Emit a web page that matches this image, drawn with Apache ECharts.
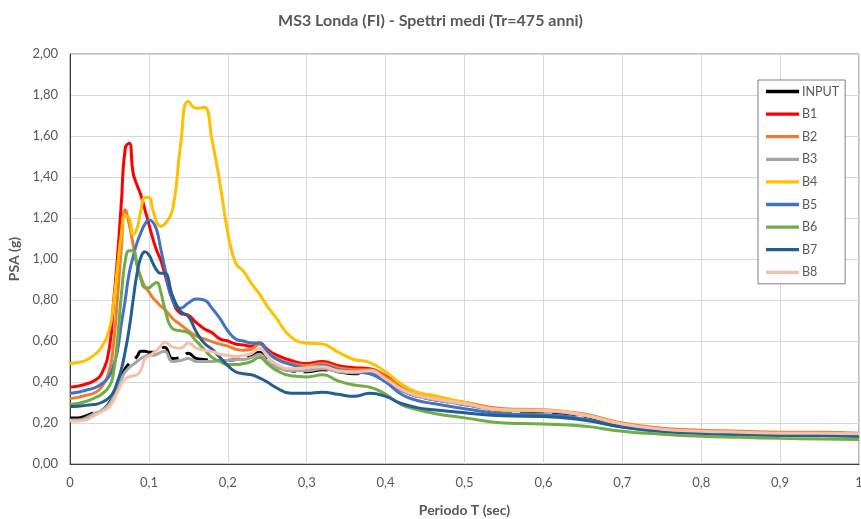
<!DOCTYPE html>
<html>
<head>
<meta charset="utf-8">
<script src="https://cdn.jsdelivr.net/npm/echarts@6/dist/echarts.min.js"></script>
<style>
  html, body { margin: 0; padding: 0; background: #fff; }
  #chart { width: 861px; height: 519px; }
</style>
</head>
<body>
<div id="chart"></div>
<script>
// period T (sec), shared by all spectra
const period = [0, 0.01, 0.02, 0.03, 0.04, 0.05, 0.055, 0.06, 0.065, 0.07, 0.075, 0.08, 0.085, 0.09, 0.095,
  0.10, 0.105, 0.11, 0.115, 0.12, 0.13, 0.14, 0.15, 0.16, 0.17, 0.18, 0.19, 0.20, 0.21, 0.22, 0.23, 0.24,
  0.25, 0.26, 0.28, 0.30, 0.32, 0.34, 0.36, 0.38, 0.40, 0.42, 0.44, 0.46, 0.50, 0.55, 0.60, 0.65, 0.70,
  0.75, 0.80, 0.85, 0.90, 0.95, 1.00];

const input = [0.225, 0.225, 0.235, 0.25, 0.26, 0.30, 0.335, 0.38, 0.43, 0.465, 0.49, 0.505, 0.525, 0.55, 0.55,
  0.545, 0.545, 0.55, 0.565, 0.57, 0.515, 0.52, 0.54, 0.515, 0.51, 0.505, 0.505, 0.505, 0.51, 0.515, 0.525, 0.545,
  0.51, 0.48, 0.455, 0.45, 0.46, 0.45, 0.44, 0.445, 0.41, 0.36, 0.33, 0.315, 0.29, 0.26, 0.255, 0.235, 0.19,
  0.165, 0.155, 0.15, 0.145, 0.145, 0.145];

const b1 = [0.375, 0.38, 0.39, 0.405, 0.44, 0.57, 0.78, 1.0, 1.27, 1.54, 1.565, 1.42, 1.36, 1.31, 1.24,
  1.17, 1.10, 1.04, 0.995, 0.93, 0.80, 0.735, 0.725, 0.69, 0.66, 0.64, 0.61, 0.60, 0.585, 0.58, 0.575, 0.59,
  0.56, 0.535, 0.505, 0.49, 0.50, 0.48, 0.47, 0.465, 0.43, 0.38, 0.34, 0.325, 0.30, 0.265, 0.26, 0.24, 0.195,
  0.17, 0.16, 0.155, 0.15, 0.15, 0.145];

const b2 = [0.32, 0.325, 0.335, 0.345, 0.375, 0.46, 0.58, 0.80, 1.05, 1.24, 1.17, 1.07, 0.97, 0.91, 0.865,
  0.84, 0.81, 0.79, 0.77, 0.755, 0.71, 0.68, 0.65, 0.625, 0.61, 0.597, 0.585, 0.575, 0.56, 0.555, 0.56, 0.585,
  0.55, 0.52, 0.49, 0.48, 0.49, 0.47, 0.46, 0.46, 0.425, 0.375, 0.34, 0.325, 0.30, 0.27, 0.265, 0.245, 0.20,
  0.175, 0.165, 0.16, 0.155, 0.155, 0.15];

const b3 = [0.215, 0.215, 0.225, 0.245, 0.26, 0.295, 0.33, 0.37, 0.415, 0.45, 0.47, 0.485, 0.50, 0.515, 0.525,
  0.53, 0.53, 0.535, 0.545, 0.55, 0.50, 0.505, 0.515, 0.50, 0.50, 0.50, 0.505, 0.505, 0.51, 0.51, 0.52, 0.535,
  0.50, 0.475, 0.455, 0.455, 0.465, 0.45, 0.445, 0.445, 0.41, 0.36, 0.33, 0.315, 0.29, 0.262, 0.258, 0.238, 0.192,
  0.168, 0.158, 0.152, 0.148, 0.147, 0.145];

const b4 = [0.49, 0.495, 0.505, 0.53, 0.57, 0.66, 0.78, 0.95, 1.12, 1.21, 1.20, 1.12, 1.15, 1.24, 1.30,
  1.30, 1.24, 1.18, 1.16, 1.17, 1.24, 1.55, 1.77, 1.735, 1.74, 1.58, 1.37, 1.13, 0.98, 0.94, 0.88, 0.83,
  0.77, 0.72, 0.62, 0.59, 0.585, 0.545, 0.51, 0.495, 0.45, 0.39, 0.35, 0.335, 0.30, 0.262, 0.26, 0.24, 0.195,
  0.165, 0.155, 0.145, 0.14, 0.14, 0.14];

const b5 = [0.345, 0.35, 0.36, 0.37, 0.39, 0.43, 0.48, 0.55, 0.68, 0.80, 0.93, 1.01, 1.08, 1.13, 1.17,
  1.19, 1.18, 1.14, 1.05, 0.96, 0.80, 0.76, 0.785, 0.805, 0.80, 0.76, 0.71, 0.65, 0.61, 0.60, 0.59, 0.59,
  0.55, 0.515, 0.485, 0.47, 0.48, 0.46, 0.45, 0.44, 0.40, 0.34, 0.31, 0.295, 0.27, 0.245, 0.24, 0.22, 0.18,
  0.16, 0.15, 0.145, 0.14, 0.14, 0.135];

const b6 = [0.29, 0.295, 0.305, 0.32, 0.34, 0.38, 0.44, 0.60, 0.82, 0.99, 1.04, 1.04, 0.97, 0.90, 0.86,
  0.86, 0.875, 0.885, 0.84, 0.76, 0.66, 0.65, 0.64, 0.60, 0.56, 0.52, 0.50, 0.485, 0.485, 0.49, 0.50, 0.52,
  0.49, 0.46, 0.43, 0.425, 0.435, 0.405, 0.385, 0.375, 0.34, 0.29, 0.265, 0.248, 0.225, 0.20, 0.195, 0.185, 0.16,
  0.145, 0.135, 0.13, 0.125, 0.122, 0.12];

const b7 = [0.28, 0.282, 0.286, 0.29, 0.30, 0.325, 0.35, 0.40, 0.46, 0.55, 0.66, 0.80, 0.93, 1.01, 1.035,
  1.02, 0.98, 0.945, 0.93, 0.93, 0.82, 0.745, 0.72, 0.645, 0.59, 0.56, 0.52, 0.48, 0.45, 0.44, 0.435, 0.42,
  0.40, 0.375, 0.345, 0.345, 0.35, 0.34, 0.33, 0.345, 0.33, 0.295, 0.275, 0.265, 0.25, 0.235, 0.232, 0.215, 0.18,
  0.16, 0.15, 0.145, 0.14, 0.138, 0.135];

const b8 = [0.21, 0.21, 0.215, 0.235, 0.255, 0.28, 0.31, 0.35, 0.39, 0.415, 0.425, 0.43, 0.435, 0.46, 0.515,
  0.525, 0.54, 0.555, 0.575, 0.595, 0.57, 0.565, 0.59, 0.565, 0.555, 0.548, 0.535, 0.53, 0.525, 0.53, 0.54, 0.565,
  0.525, 0.49, 0.465, 0.47, 0.475, 0.455, 0.45, 0.455, 0.415, 0.365, 0.335, 0.32, 0.295, 0.265, 0.262, 0.24, 0.195,
  0.17, 0.16, 0.155, 0.15, 0.15, 0.148];

const seriesNames = ['INPUT', 'B1', 'B2', 'B3', 'B4', 'B5', 'B6', 'B7', 'B8'];
const seriesValues = [input, b1, b2, b3, b4, b5, b6, b7, b8];
const seriesColors = ['#000000', '#FF0000', '#ED7D31', '#A5A5A5', '#FFC000', '#4472C4', '#70AD47', '#255E91', '#F4C0AC'];

const FONT = 'Lato, "Open Sans", sans-serif';
const TEXT = '#595959';

const comma = (v, d) => v.toFixed(d).replace('.', ',');

// INPUT is first, so every B-series is painted over it
const series = seriesNames.map((name, i) => ({
  name: name,
  type: 'line',
  data: period.map((t, k) => [t, seriesValues[i][k]]),
  symbol: 'none',
  smooth: 0.5,
  color: seriesColors[i],
  lineStyle: {
    width: 3,
    color: seriesColors[i],
    type: name === 'INPUT' ? [24, 8] : 'solid'
  }
}));

const chart = echarts.init(document.getElementById('chart'), null, { renderer: 'canvas' });
chart.setOption({
  animation: false,
  backgroundColor: '#fff',
  title: {
    text: 'MS3 Londa (FI) - Spettri medi (Tr=475 anni)',
    left: 'center',
    top: 8,
    textStyle: { fontFamily: FONT, fontSize: 16, fontWeight: 'bold', color: TEXT }
  },
  legend: {
    orient: 'vertical',
    left: 758,
    top: 80,
    width: 80,
    padding: [5, 6, 5, 8],
    itemWidth: 33,
    itemHeight: 14,
    itemGap: 9.6,
    borderColor: '#808080',
    borderWidth: 1,
    backgroundColor: '#fff',
    textStyle: { fontFamily: FONT, fontSize: 12.5, color: TEXT, padding: [0, 0, 0, -2] },
    data: seriesNames.map((n, i) => ({
      name: n,
      icon: 'path://M0,0 L10,0 L10,1 L0,1 Z',
      itemStyle: { color: seriesColors[i] }
    }))
  },
  grid: {
    left: 70,
    right: 2,
    top: 54,
    bottom: 55,
    outerBoundsMode: 'none',
    containLabel: false,
    show: true,
    borderColor: '#7f7f7f',
    borderWidth: 1
  },
  xAxis: {
    type: 'value',
    min: 0,
    max: 1,
    interval: 0.1,
    name: 'Periodo T (sec)',
    nameLocation: 'middle',
    nameGap: 39,
    nameTextStyle: { fontFamily: FONT, fontSize: 14, fontWeight: 'bold', color: TEXT },
    axisLine: { lineStyle: { color: '#404040', width: 1 } },
    axisTick: { show: false },
    axisLabel: {
      fontFamily: FONT, fontSize: 13, color: TEXT, margin: 12,
      formatter: v => (v === 0 || v === 1) ? String(v) : comma(v, 1)
    },
    splitLine: { show: true, lineStyle: { color: '#D9D9D9', width: 1 } }
  },
  yAxis: {
    type: 'value',
    min: 0,
    max: 2,
    interval: 0.2,
    name: 'PSA (g)',
    nameLocation: 'middle',
    nameRotate: 90,
    nameGap: 48,
    nameTextStyle: { fontFamily: FONT, fontSize: 14, fontWeight: 'bold', color: TEXT },
    axisLine: { show: true, lineStyle: { color: '#404040', width: 1 } },
    axisTick: { show: false },
    axisLabel: {
      fontFamily: FONT, fontSize: 13, color: TEXT, margin: 12,
      formatter: v => comma(v, 2)
    },
    splitLine: { show: true, lineStyle: { color: '#D9D9D9', width: 1 } }
  },
  series: series
});
</script>
</body>
</html>
